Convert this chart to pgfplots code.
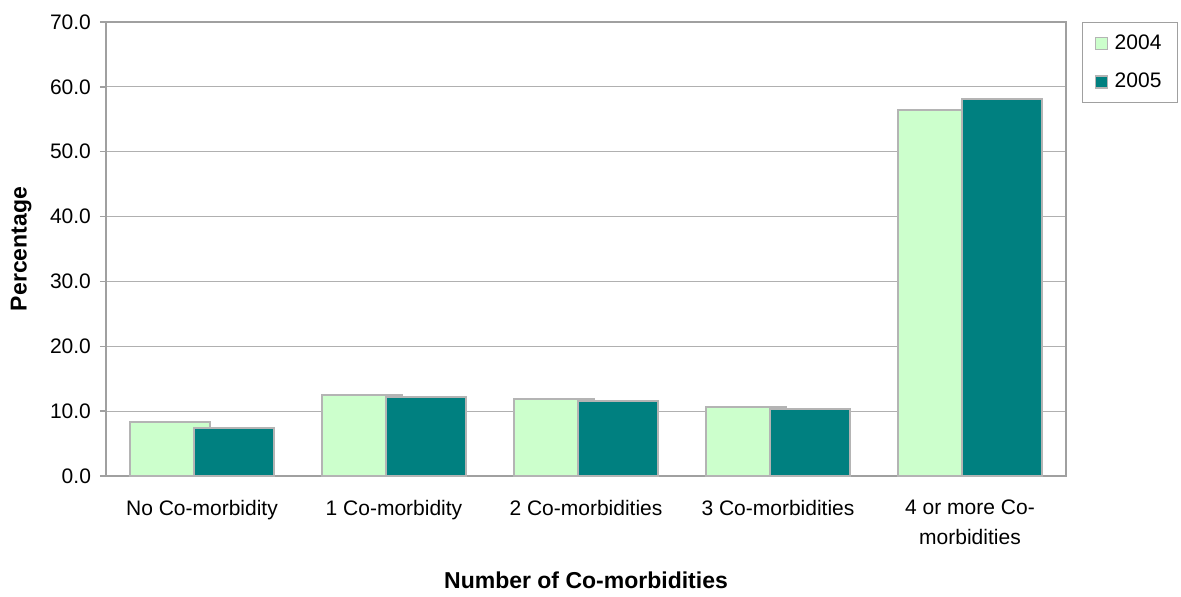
\documentclass[border=0pt]{standalone}
\usepackage{pgfplots}
\pgfplotsset{compat=1.18}
\usepackage{fontspec}
\setmainfont{Liberation Sans}
\definecolor{lgreen}{HTML}{CCFFCC}
\definecolor{tealc}{HTML}{008080}
\definecolor{bord}{HTML}{B4B4B4}
\definecolor{axgray}{HTML}{A0A0A0}
\definecolor{gridgray}{HTML}{B0B0B0}
\begin{document}
\begin{tikzpicture}
\begin{axis}[
  scale only axis, width=480pt, height=227pt,
  xmin=-0.5, xmax=4.5, ymin=0, ymax=70,
  ybar, bar width=0.418,
  xtick={0,1,2,3,4},
  xticklabels={No Co-morbidity, 1 Co-morbidity, 2 Co-morbidities, 3 Co-morbidities, {4 or more Co-\\morbidities}},
  xticklabel style={align=center, font=\fontsize{10.5}{15}\selectfont, yshift=-5.5pt},
  major x tick style={draw=none},
  ytick={0,10,...,70},
  ytick pos=left,
  tick align=outside,
  major tick length=3pt,
  ytick style={axgray, line width=0.7pt},
  yticklabel style={font=\fontsize{10.5}{12}\selectfont, xshift=-1pt},
  /pgf/number format/.cd, fixed, fixed zerofill, precision=1, assume math mode=true,
  /pgfplots/.cd,
  ymajorgrids, grid style={gridgray, line width=0.5pt},
  axis line style={axgray, line width=0.9pt},
  xlabel={Number of Co-morbidities},
  ylabel={Percentage},
  xlabel style={font=\fontsize{11.5}{13}\bfseries, at={(axis description cs:0.5,-0.229)}, anchor=center},
  ylabel style={font=\fontsize{11.5}{13}\bfseries, at={(axis description cs:-0.0885,0.5)}, anchor=center, rotate=0},
  legend style={at={(1.0167,1)}, anchor=north west, draw=axgray, line width=0.5pt, fill=white,
    font=\fontsize{10.5}{12}\selectfont, inner xsep=6pt, inner ysep=4pt, row sep=6.5pt,
    /tikz/every odd column/.style={column sep=1.5pt}},
  legend cell align=left,
  legend image code/.code={\draw[#1, line width=0.6pt] (0pt,-3pt) rectangle (6pt,3pt);},
]
\addplot[fill=lgreen, draw=bord, line width=1pt, bar shift=-0.165] coordinates {
  (0,8.4) (1,12.5) (2,11.9) (3,10.6) (4,56.5)
};
\addlegendentry{2004}
\addplot[fill=tealc, draw=bord, line width=1pt, bar shift=0.165] coordinates {
  (0,7.45) (1,12.2) (2,11.6) (3,10.3) (4,58.1)
};
\addlegendentry{2005}
\coordinate (sw) at (rel axis cs:0,0);
\end{axis}
\pgfresetboundingbox
\path (sw) ++(-53pt,-60pt) rectangle ++(590.5pt,298pt);
\end{tikzpicture}
\end{document}
